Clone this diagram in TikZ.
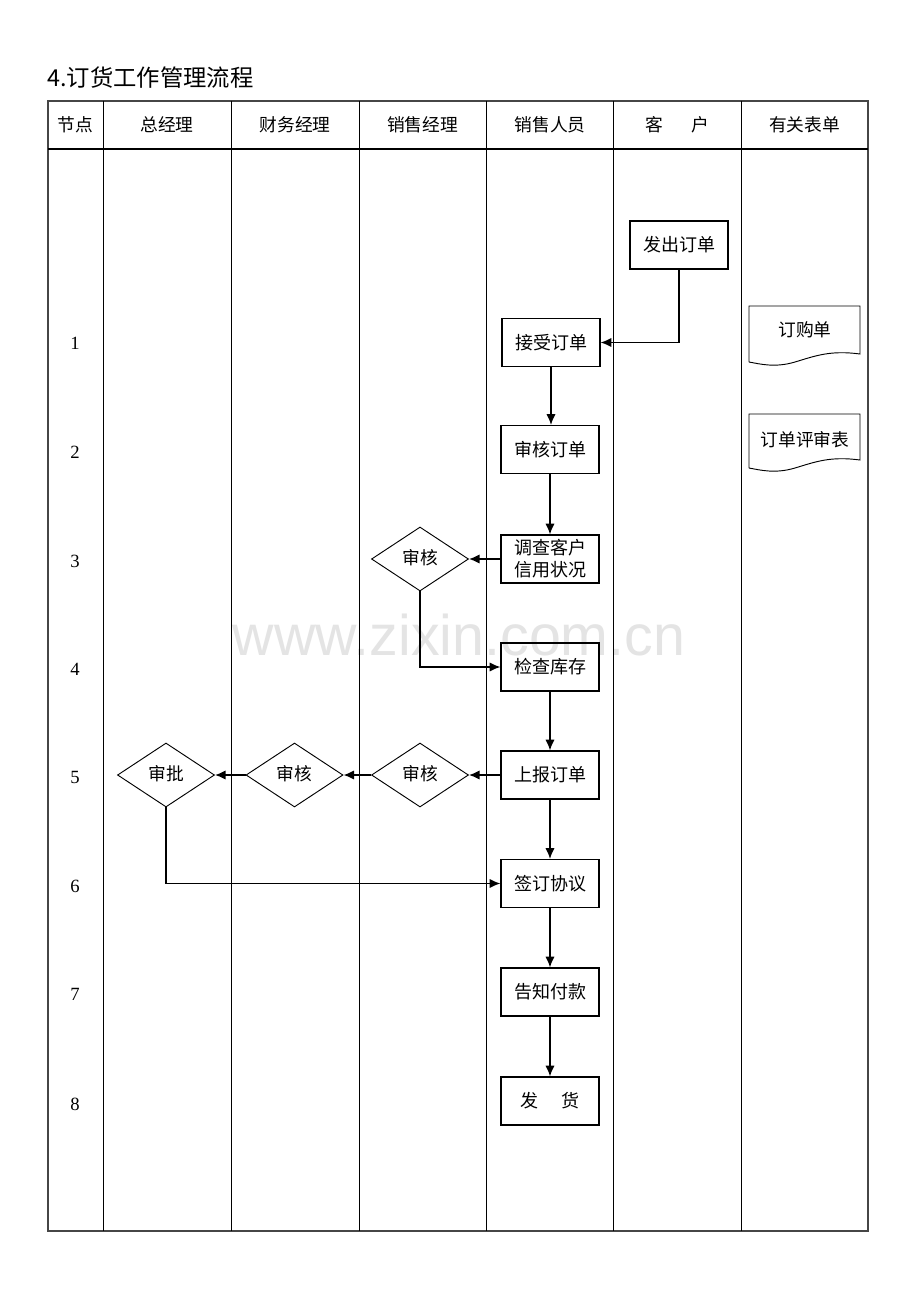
\documentclass[tikz,border=0pt]{standalone}
\usepackage{fontspec}
\setmainfont{Liberation Serif}
\newfontfamily\cjk{Noto Sans CJK SC}
\newfontfamily\wmfont{Liberation Sans}
\usetikzlibrary{shapes.geometric,arrows.meta}
\definecolor{wm}{RGB}{228,228,228}
\definecolor{grid}{RGB}{70,70,70}
\begin{document}
\begin{tikzpicture}[x=0.75pt,y=-0.75pt,
  cn/.style={font=\cjk\fontsize{13.3}{16.5}\selectfont, inner sep=0pt},
  box/.style={draw, line width=0.9pt, minimum width=73.5pt, minimum height=36pt, inner sep=0pt, align=center, font=\cjk\fontsize{13.5}{16.5}\selectfont},
  dia/.style={diamond, draw, line width=0.7pt, minimum width=72.75pt, minimum height=48pt, inner sep=0pt, font=\cjk\fontsize{13.3}{16.5}\selectfont},
  arr/.style={-{Latex[length=8pt,width=7pt]}, line width=1.1pt},
  doc/.style={draw, line width=0.7pt},
  num/.style={font=\fontsize{14}{16}\selectfont, inner sep=0pt}]
\fill[white] (0,0) rectangle (920,1302);
\useasboundingbox (0,0) rectangle (920,1302);
% watermark
\node[text=wm, font=\wmfont\fontsize{43}{50}\selectfont, inner sep=0pt] (wmk) at (459,635) {www.zixin.com.cn};
% title
\node[anchor=west, inner sep=0pt, font=\cjk\fontsize{17.5}{20}\selectfont] (title) at (47,78) {4.订货工作管理流程};
% table
\draw[grid, line width=0.9pt] (48,101) rectangle (868,1231);
\draw[line width=0.8pt] (48,149) -- (868,149);
\foreach \x in {103,231,359,486,613,741} \draw[line width=0.6pt] (\x,101) -- (\x,1231);
% headers
\node[cn] (h0) at (75.5,125) {节点};
\node[cn] (h1) at (167,125) {总经理};
\node[cn] (h2) at (295,125) {财务经理};
\node[cn] (h3) at (422.5,125) {销售经理};
\node[cn] (h4) at (550,125) {销售人员};
\node[cn] (h5) at (677,125) {客\hspace{1.6em}户};
\node[cn] (h6) at (804.5,125) {有关表单};
% node numbers
\foreach \n/\y in {1/343,2/452,3/561,4/669,5/777,6/886,7/994,8/1104}
  \node[num] (n\n) at (75,\y) {\n};
% boxes
\node[box] (fa) at (679,245) {发出订单};
\node[box] (js) at (551,342.5) {接受订单};
\node[box] (sh) at (550,449.5) {审核订单};
\node[box] (dc) at (550,559) {调查客户\\信用状况};
\node[box] (jc) at (550,667) {检查库存};
\node[box] (sb) at (550,775) {上报订单};
\node[box] (qd) at (550,883.5) {签订协议};
\node[box] (gz) at (550,992) {告知付款};
\node[box] (fh) at (550,1101) {发\hspace{1.3em}货};
% diamonds
\node[dia] (d3) at (420,559) {\raisebox{3pt}{审核}};
\node[dia] (d5a) at (166,775) {\raisebox{3pt}{审批}};
\node[dia] (d5b) at (294.5,775) {\raisebox{3pt}{审核}};
\node[dia] (d5c) at (420,775) {\raisebox{3pt}{审核}};
% documents
\draw[doc] (749,362) -- (749,306) -- (860,306) -- (860,354)
  .. controls (830,350) and (815,356) .. (795,362)
  .. controls (775,368) and (760,364) .. (749,362);
\node[cn] (dg) at (805,330) {订购单};
\draw[doc] (749,468) -- (749,414) -- (860,414) -- (860,460)
  .. controls (830,456) and (815,462) .. (795,468)
  .. controls (775,474) and (760,470) .. (749,468);
\node[cn] (dp) at (805,440) {订单评审表};
% connectors
\draw[arr] (fa.south) |- (js.east);
\draw[arr] (js.south) -- (js.south |- sh.north);
\draw[arr] (sh) -- (dc);
\draw[arr] (dc.west) -- (d3.east);
\draw[arr] (d3.south) |- (jc.west);
\draw[arr] (jc) -- (sb);
\draw[arr] (sb.west) -- (d5c.east);
\draw[arr] (d5c.west) -- (d5b.east);
\draw[arr] (d5b.west) -- (d5a.east);
\draw[arr] (d5a.south) |- (qd.west);
\draw[arr] (sb) -- (qd);
\draw[arr] (qd.south) -- (qd.south |- gz.north);
\draw[arr] (gz.south) -- (gz.south |- fh.north);
\end{tikzpicture}
\end{document}
